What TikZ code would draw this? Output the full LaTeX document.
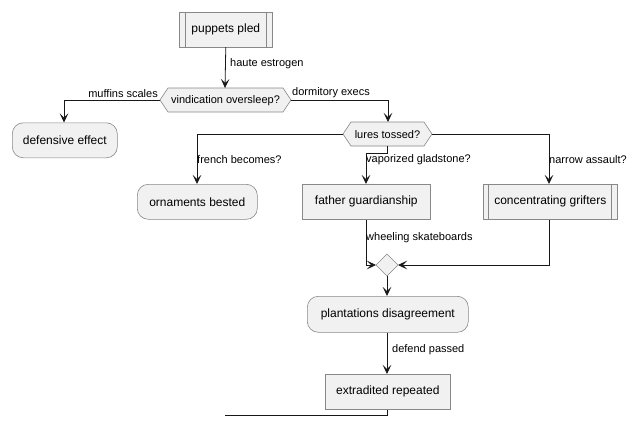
\documentclass[tikz,border=0pt]{standalone}
\usepackage{fontspec}
\setmainfont{Liberation Sans}
\usetikzlibrary{arrows.meta,shapes.geometric,calc}
\definecolor{nodefill}{HTML}{F1F1F1}
\definecolor{nodeline}{HTML}{888888}
\definecolor{edgeline}{HTML}{181818}
\tikzset{
  base/.style={draw=nodeline,fill=nodefill,line width=0.6pt,font=\fontsize{12}{14}\selectfont,inner sep=0pt,anchor=north west},
  actbox/.style={base},
  roundbox/.style={base,rounded corners=11pt},
  txt/.style={font=\fontsize{12}{14}\selectfont},
  hextxt/.style={font=\fontsize{11}{13}\selectfont},
  conn/.style={draw=edgeline,line width=0.8pt},
  arr/.style={conn,-{Stealth[length=9pt,width=8.5pt,inset=4pt]}},
  lbl/.style={font=\fontsize{11}{13}\selectfont,inner sep=0pt},
}
\begin{document}
\begin{tikzpicture}[x=1pt,y=-1pt]
\useasboundingbox (0,0) rectangle (640,426);
% puppets pled (subroutine)
\node[actbox,minimum width=93pt,minimum height=35pt] (pp) at (179,11.5) {};
\node[txt] at (pp.center) {puppets pled};
\draw[nodeline,line width=0.6pt] (185,11.5) -- (185,46.5) (266,11.5) -- (266,46.5);
% vindication hexagon
\path[draw=nodeline,fill=nodefill,line width=0.6pt] (160,100) -- (168,88) -- (283,88) -- (291,100) -- (283,112) -- (168,112) -- cycle;
\coordinate (vL) at (160,100); \coordinate (vR) at (291,100); \coordinate (vT) at (225,88);
\node[hextxt] (vo) at (225.5,100.5) {vindication oversleep?};
% defensive effect
\node[roundbox,minimum width=105pt,minimum height=35pt] (de) at (12,122.5) {};
\node[txt] at (de.center) {defensive effect};
% lures tossed hexagon
\path[draw=nodeline,fill=nodefill,line width=0.6pt] (343,134) -- (351,122) -- (424,122) -- (432,134) -- (424,146) -- (351,146) -- cycle;
\coordinate (lL) at (343,134); \coordinate (lR) at (432,134); \coordinate (lT) at (388,122); \coordinate (lB) at (387,146);
\node[hextxt] (lt) at (387.5,134.5) {lures tossed?};
% ornaments bested
\node[roundbox,minimum width=120pt,minimum height=35pt] (ob) at (137,184) {};
\node[txt] at (ob.center) {ornaments bested};
% father guardianship
\node[actbox,minimum width=128pt,minimum height=35pt] (fg) at (302,184) {};
\node[txt] at (fg.center) {father guardianship};
% concentrating grifters (subroutine)
\node[actbox,minimum width=134pt,minimum height=35pt] (cg) at (483,184) {};
\node[txt] at (cg.center) {concentrating grifters};
\draw[nodeline,line width=0.6pt] (488.5,184) -- (488.5,219) (611.5,184) -- (611.5,219);
% merge diamond
\path[draw=nodeline,fill=nodefill,line width=0.6pt] (376,265) -- (387,254) -- (398,265) -- (387,276) -- cycle;
\coordinate (mL) at (376,265); \coordinate (mR) at (398,265); \coordinate (mB) at (387,276);
% plantations disagreement
\node[roundbox,minimum width=161pt,minimum height=36pt] (pd) at (307,296) {};
\node[txt] at (pd.center) {plantations disagreement};
% extradited repeated
\node[actbox,minimum width=125pt,minimum height=35pt] (er) at (325,374) {};
\node[txt] at (er.center) {extradited repeated};
\coordinate (endpt) at (225,415);

% connectors
\draw[arr] (pp.south) -- (vT);
\node[lbl,anchor=west] at (230,64) {haute estrogen};
\draw[arr] (vL) -- (64,100) -- (de.north -| 64,0);
\node[lbl,anchor=east] at (158,94) {muffins scales};
\draw[arr] (vR) -- (388,100) -- (lT);
\node[lbl,anchor=west] at (292,93) {dormitory execs};
\draw[arr] (lL) -- (197,134) -- (ob.north -| 197,0);
\node[lbl,anchor=west] at (197,160) {french becomes?};
\draw[arr] (lB) -- (387,153) -- (366,153) -- (fg.north -| 366,0);
\node[lbl,anchor=west] at (366,160) {vaporized gladstone?};
\draw[arr] (lR) -- (549,134) -- (cg.north -| 549,0);
\node[lbl,anchor=west] at (549,160) {narrow assault?};
\draw[arr] (fg.south -| 366,0) -- (366,265) -- (mL);
\node[lbl,anchor=west] at (366,238) {wheeling skateboards};
\draw[arr] (cg.south -| 549,0) -- (549,265) -- (mR);
\draw[arr] (mB) -- (pd.north -| 387,0);
\draw[arr] (pd.south -| 387,0) -- (er.north -| 387,0);
\node[lbl,anchor=west] at (392,350) {defend passed};
\draw[conn] (er.south -| 387,0) -- (387,415) -- (endpt);
\end{tikzpicture}
\end{document}
